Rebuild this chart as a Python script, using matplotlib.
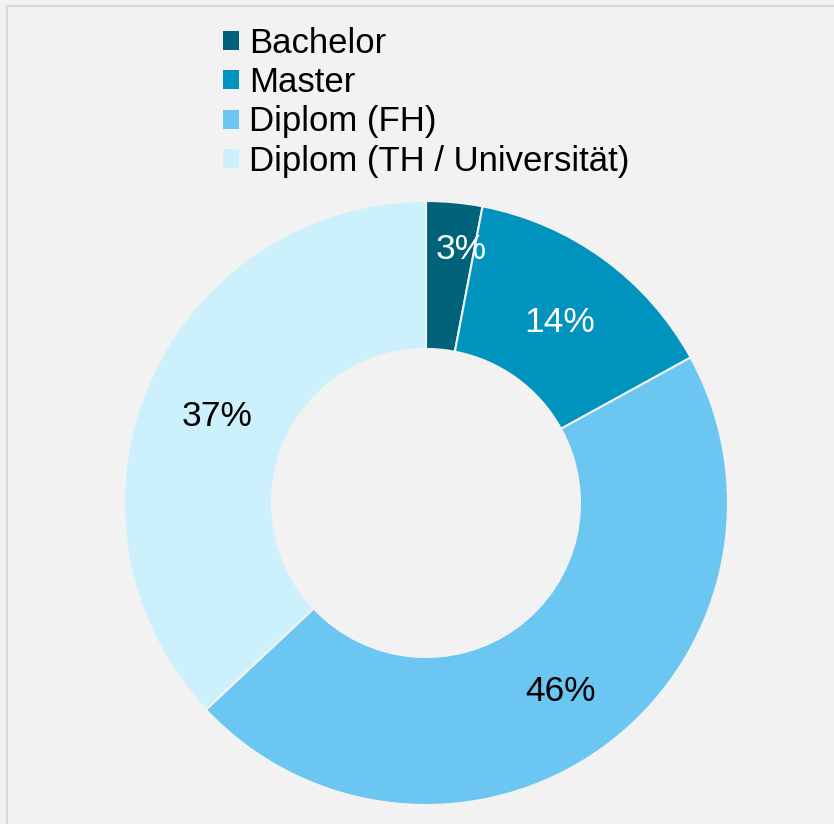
import matplotlib
matplotlib.use("Agg")
import matplotlib.pyplot as plt
import numpy as np

categories = ["Bachelor", "Master", "Diplom (FH)", "Diplom (TH / Universität)"]
values = [3, 14, 46, 37]
colors = ["#00637A", "#0093BD", "#6BC6F1", "#CCF1FC"]
label_colors = ["white", "white", "black", "black"]

plt.rcParams['font.family'] = ['Liberation Sans', 'DejaVu Sans']

W, H = 834, 824
fig = plt.figure(figsize=(W/100, H/100), dpi=100)
fig.patch.set_facecolor("#F2F2F2")

# frame lines (top/left border)
fig.add_artist(plt.Line2D([7/W, 7/W], [0, 1 - 6/H], color="#D9D9D9", lw=1.5))
fig.add_artist(plt.Line2D([7/W, 1], [1 - 6/H, 1 - 6/H], color="#D9D9D9", lw=1.5))

cx, cy, R = 426, 503, 302
ax = fig.add_axes([(cx - R)/W, (H - cy - R)/H, 2*R/W, 2*R/H])
ax.set_facecolor("none")
wedges, _ = ax.pie(values, colors=colors, startangle=90, counterclock=False,
                   radius=1.0, wedgeprops=dict(width=1 - 154/302, edgecolor="#F2F2F2", linewidth=1.5))
ax.set_xlim(-1, 1); ax.set_ylim(-1, 1)
ax.set_aspect("equal")
ax.axis("off")

total = sum(values)
cum = 0
label_r = [0.86, 0.755, 0.755, 0.755]
label_shift = [2.5, 0, 0, 0]
for i, v in enumerate(values):
    mid = (cum + v/2) / total * 360 + label_shift[i]
    cum += v
    th = np.deg2rad(90 - mid)
    ax.text(label_r[i]*np.cos(th), label_r[i]*np.sin(th) - 0.012, f"{v}%",
            ha="center", va="center", fontsize=25.5, color=label_colors[i])

handles = [plt.Rectangle((0, 0), 1, 1, facecolor=c, edgecolor="none") for c in colors]
fig.legend(handles, categories, loc="upper left", bbox_to_anchor=(223/W, 1 - 27/H),
           frameon=False, fontsize=25, handlelength=0.46, handleheight=0.46,
           handletextpad=0.29, labelspacing=0.18, borderaxespad=0, borderpad=0)

fig.savefig("out.png", dpi=100, facecolor=fig.get_facecolor())
